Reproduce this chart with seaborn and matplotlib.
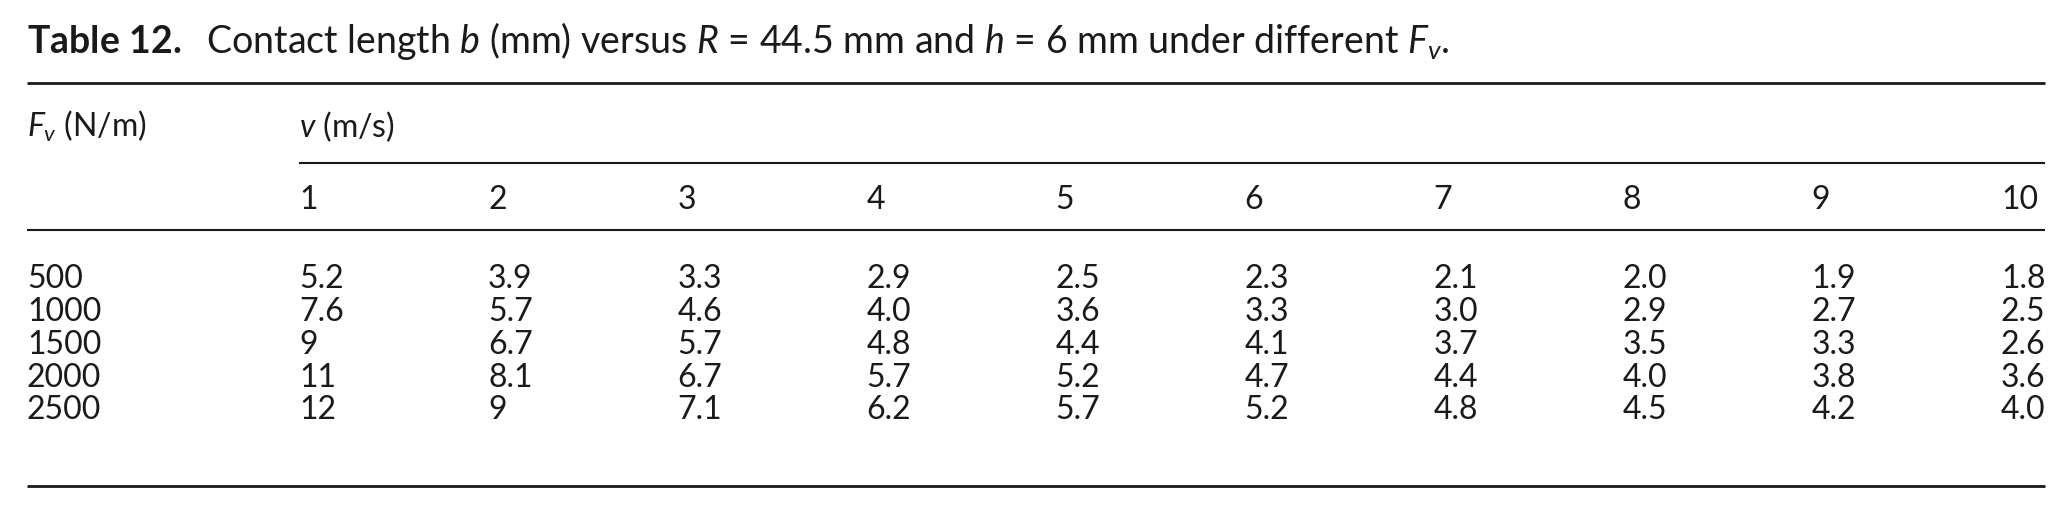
import matplotlib
matplotlib.use("Agg")
import matplotlib.pyplot as plt
import seaborn as sns
import pandas as pd

# table values
force = ["500", "1000", "1500", "2000", "2500"]
speed = ["1", "2", "3", "4", "5", "6", "7", "8", "9", "10"]
b_500 = ["5.2", "3.9", "3.3", "2.9", "2.5", "2.3", "2.1", "2.0", "1.9", "1.8"]
b_1000 = ["7.6", "5.7", "4.6", "4.0", "3.6", "3.3", "3.0", "2.9", "2.7", "2.5"]
b_1500 = ["9", "6.7", "5.7", "4.8", "4.4", "4.1", "3.7", "3.5", "3.3", "2.6"]
b_2000 = ["11", "8.1", "6.7", "5.7", "5.2", "4.7", "4.4", "4.0", "3.8", "3.6"]
b_2500 = ["12", "9", "7.1", "6.2", "5.7", "5.2", "4.8", "4.5", "4.2", "4.0"]

df = pd.DataFrame([b_500, b_1000, b_1500, b_2000, b_2500], index=force, columns=speed)

sns.set_theme(style="white")
plt.rcParams["font.family"] = ["Lato", "DejaVu Sans"]
plt.rcParams["mathtext.fontset"] = "custom"
plt.rcParams["mathtext.rm"] = "Lato"
plt.rcParams["mathtext.it"] = "Lato:italic"
plt.rcParams["mathtext.bf"] = "Lato:bold"

ink = "#1a1a1a"
fs_title = 27
fs = 23

fig = plt.figure(figsize=(20.7, 5.11), dpi=100)
ax = fig.add_axes([0, 0, 1, 1])
ax.set_xlim(0, 2070)
ax.set_ylim(511, 0)
ax.axis("off")

left = 27
right = 2045
col_x = [299 + 189.1 * i for i in range(len(speed))]

# caption
ax.text(left, 53, r"$\mathbf{Table\ 12.}$  Contact length $b$ (mm) versus $R$ = 44.5 mm and $h$ = 6 mm under different $F_v$.",
        fontsize=fs_title, color=ink, va="baseline", ha="left")

# rules
ax.hlines(83, left, right, color=ink, lw=2.0)
ax.hlines(163, col_x[0], right, color=ink, lw=1.5)
ax.hlines(230, left, right, color=ink, lw=1.5)
ax.hlines(486, left, right, color=ink, lw=2.0)

# header
ax.text(left, 137, r"$F_v$ (N/m)", fontsize=fs, color=ink, va="baseline")
ax.text(col_x[0], 137, r"$v$ (m/s)", fontsize=fs, color=ink, va="baseline")
for x, s in zip(col_x, df.columns):
    ax.text(x, 209, s, fontsize=fs, color=ink, va="baseline")

# body
row_y = [288, 321, 354, 387, 419]
for y, (f, row) in zip(row_y, df.iterrows()):
    ax.text(left, y, f, fontsize=fs, color=ink, va="baseline")
    for x, s in zip(col_x, row):
        ax.text(x, y, s, fontsize=fs, color=ink, va="baseline")

fig.savefig("out.png", dpi=100, facecolor="white")
